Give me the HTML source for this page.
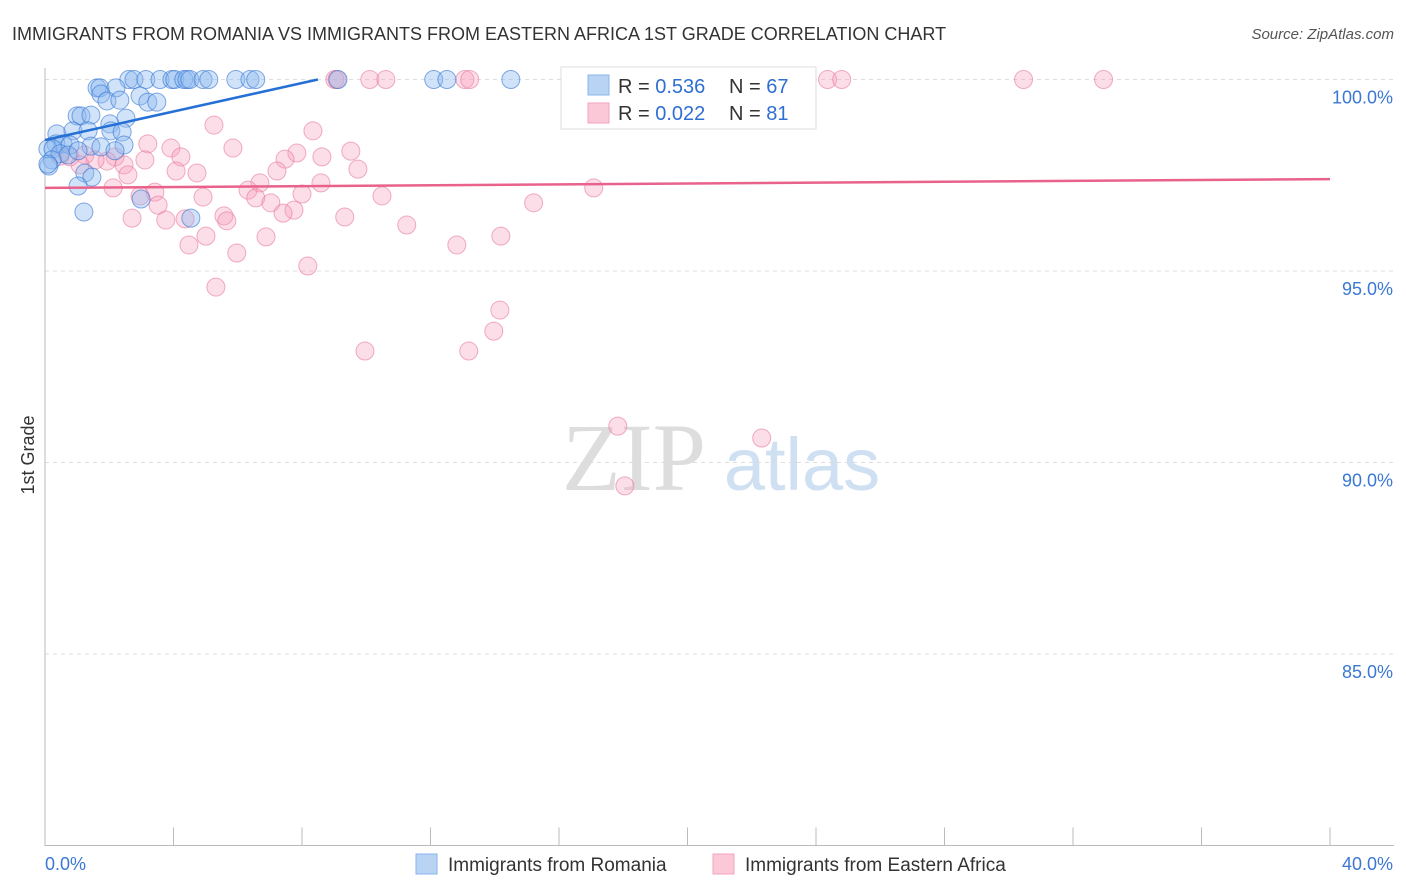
<!DOCTYPE html>
<html><head><meta charset="utf-8"><style>
body{margin:0;background:#fff;font-family:"Liberation Sans",sans-serif;}
svg{display:block}
</style></head><body>
<svg id="chart" width="1406" height="892" viewBox="0 0 1406 892">
<text x="12" y="40" font-size="18" fill="#333">IMMIGRANTS FROM ROMANIA VS IMMIGRANTS FROM EASTERN AFRICA 1ST GRADE CORRELATION CHART</text>
<text x="1394" y="39" font-size="15" fill="#555" font-style="italic" text-anchor="end">Source: ZipAtlas.com</text>
<g>
<text x="634" y="490" font-size="96" fill="#ddd" text-anchor="middle" font-family="Liberation Serif,serif">ZIP</text>
<text x="802" y="490" font-size="74" fill="#cfe0f3" text-anchor="middle">atlas</text>
</g>
<g id="grid"></g>
<g id="axes"></g>
<g id="marks"></g>
<text transform="translate(34,455) rotate(-90)" font-size="18" fill="#333" text-anchor="middle">1st Grade</text>
<g>
<rect x="561" y="67" width="255" height="62" fill="#fff" stroke="#ddd"/>
<rect x="588" y="75" width="21" height="20" fill="#b9d3f5" stroke="#8ab4ea"/>
<rect x="588" y="103" width="21" height="20" fill="#fbc8d8" stroke="#f3a3bc"/>
<text x="618" y="93" font-size="20" fill="#333">R = <tspan fill="#2f6fd1">0.536</tspan></text>
<text x="729" y="93" font-size="20" fill="#333">N = <tspan fill="#2f6fd1">67</tspan></text>
<text x="618" y="120" font-size="20" fill="#333">R = <tspan fill="#2f6fd1">0.022</tspan></text>
<text x="729" y="120" font-size="20" fill="#333">N = <tspan fill="#2f6fd1"> 81</tspan></text>
</g>
<g>
<rect x="416" y="854" width="21" height="20" fill="#b9d3f5" stroke="#8ab4ea"/>
<text x="448" y="871" font-size="19" fill="#333">Immigrants from Romania</text>
<rect x="713" y="854" width="21" height="20" fill="#fbc8d8" stroke="#f3a3bc"/>
<text x="745" y="871" font-size="19" fill="#333">Immigrants from Eastern Africa</text>
</g>
</svg>
<script>
const xTicks=[0,4,8,12,16,20,24,28,32,36,40];
const yTicks=[85,90,95,100];
const yTickLabels=["85.0%","90.0%","95.0%","100.0%"];
const xEndLabels=["0.0%","40.0%"];
const blueX=[1.62,1.71,2.61,2.77,3.14,3.58,3.95,4.04,4.32,4.42,4.51,4.92,5.10,5.94,6.38,6.56,9.12,12.10,12.51,14.50,2.21,1.74,1.93,2.33,2.96,3.20,3.48,1.0,1.12,1.43,2.52,2.02,0.37,0.87,1.34,2.05,2.40,0.34,0.56,0.78,1.43,1.74,2.46,0.09,0.25,0.47,0.72,1.03,2.18,0.22,0.12,1.24,1.46,1.03,1.21,2.99,4.54,0.09];
const blueY=[99.78,99.78,100,100,100,100,100,100,100,100,100,100,100,100,100,100,100,100,100,100,99.78,99.62,99.44,99.46,99.57,99.41,99.41,99.05,99.05,99.07,98.99,98.84,98.58,98.66,98.66,98.66,98.63,98.32,98.32,98.29,98.26,98.24,98.29,98.19,98.19,98.06,98.03,98.14,98.14,97.90,97.74,97.56,97.45,97.22,96.54,96.88,96.38,97.79];
const pinkX=[9.02,9.09,10.11,10.61,13.07,13.22,16.55,23.27,24.36,24.80,30.46,32.95,5.26,8.34,3.20,5.85,3.92,9.52,7.84,8.62,4.23,2.18,3.11,1.93,0.78,0.47,2.46,7.47,7.22,9.74,4.73,4.08,2.58,6.69,8.59,17.08,2.12,6.32,3.42,4.92,8.0,6.56,10.49,2.96,7.03,3.52,7.75,7.41,5.57,2.71,3.76,5.66,4.36,9.33,15.21,11.26,5.01,6.88,4.48,12.82,14.19,5.97,8.18,5.32,14.16,13.97,9.96,13.19,17.83,22.31,18.05,1.24,1.56,1.09];
const pinkY=[100,100,100,100,100,100,100,100,100,100,100,100,98.81,98.66,98.32,98.21,98.21,98.13,98.08,97.98,97.98,97.98,97.90,97.87,97.98,98.0,97.77,97.92,97.61,97.66,97.56,97.61,97.51,97.30,97.30,97.17,97.17,97.11,97.06,96.93,97.01,96.91,96.96,96.96,96.78,96.72,96.59,96.51,96.44,96.38,96.33,96.31,96.36,96.41,96.78,96.20,95.91,95.89,95.68,95.68,95.91,95.47,95.13,94.58,93.98,93.43,92.91,92.91,90.95,90.64,89.39,98.03,97.90,97.77];
const blueTrend=[98.42,0.186];
const pinkTrend=[97.17,0.00575];
const NS="http://www.w3.org/2000/svg";
const X=v=>45+v*(1285/40);
const Y=v=>79.5+(100-v)*38.3;
function mk(tag,attrs,parent){const e=document.createElementNS(NS,tag);for(const k in attrs)e.setAttribute(k,attrs[k]);parent.appendChild(e);return e;}
const grid=document.getElementById('grid'),axes=document.getElementById('axes'),marks=document.getElementById('marks');
[80].concat(yTicks).forEach(v=>{});
yTicks.forEach((v,i)=>{
 const l=mk('line',{x1:45,x2:1394,y1:Y(v),y2:Y(v),stroke:'#ddd','stroke-dasharray':'4,4'},grid);
 
 
 const t=mk('text',{x:1393,y:Y(v)+24,'font-size':18,fill:'#3a78d4','text-anchor':'end'},axes);
 t.textContent=yTickLabels[i];
 
 
});
const ya=mk('line',{x1:45,x2:45,y1:68,y2:846,stroke:'#bbb'},axes);


const xa=mk('line',{x1:45,x2:1394,y1:Y(80),y2:Y(80),stroke:'#bbb'},axes);


xTicks.forEach(v=>{
 const t=mk('line',{x1:X(v),x2:X(v),y1:Y(80)-18,y2:Y(80),stroke:'#bbb'},axes);
 
 
});
const xl0=mk('text',{x:45,y:870,'font-size':18,fill:'#3a78d4'},axes);xl0.textContent=xEndLabels[0];


const xl1=mk('text',{x:1393,y:870,'font-size':18,fill:'#3a78d4','text-anchor':'end'},axes);xl1.textContent=xEndLabels[1];


pinkX.forEach((x,i)=>{
 const c=mk('circle',{cx:X(x),cy:Y(pinkY[i]),r:9,fill:'rgba(246,160,188,0.35)',stroke:'rgba(232,120,155,0.6)','stroke-width':1},marks);
 
 
});
blueX.forEach((x,i)=>{
 const c=mk('circle',{cx:X(x),cy:Y(blueY[i]),r:9,fill:'rgba(140,185,240,0.4)',stroke:'rgba(50,115,210,0.6)','stroke-width':1},marks);
 
 
});
const bxEnd=Math.min(40,(100-blueTrend[0])/blueTrend[1]);
const bl=mk('line',{x1:X(0),y1:Y(blueTrend[0]),x2:X(bxEnd),y2:Y(blueTrend[0]+blueTrend[1]*bxEnd),stroke:'#2470d6','stroke-width':2.5},marks);


const pl=mk('line',{x1:X(0),y1:Y(pinkTrend[0]),x2:X(40),y2:Y(pinkTrend[0]+pinkTrend[1]*40),stroke:'#e8628c','stroke-width':2.5},marks);


</script>
</body></html>
